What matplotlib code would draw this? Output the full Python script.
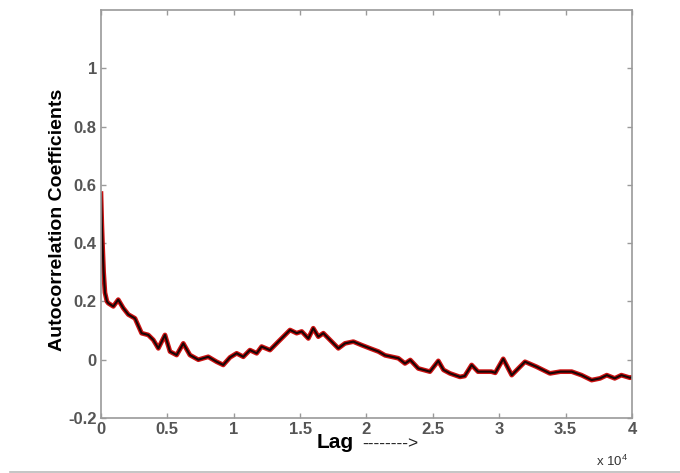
import matplotlib.pyplot as plt
from matplotlib.lines import Line2D

plt.rcParams.update({'font.family': ['Liberation Sans', 'DejaVu Sans'],
                     'mathtext.default': 'regular'})

# Autocorrelation of the series vs. lag
lag = [0, 60, 120, 200, 300, 450, 550, 930, 1300, 1680, 2060, 2560, 3060,
       3560, 3940, 4320, 4820, 5200, 5700, 6200, 6700, 7330, 8080, 8710,
       9210, 9720, 10220, 10720, 11220, 11730, 12100, 12730, 13360, 14240,
       14740, 15120, 15620, 15990, 16370, 16750, 17250, 17880, 18380, 19010,
       19640, 20260, 20900, 21400, 22400, 22900, 23300, 23900, 24780, 25410,
       25800, 26290, 27040, 27400, 27920, 28400, 29400, 29700, 30300, 30940,
       31940, 32800, 33820, 34600, 35460, 36200, 36960, 37600, 38100, 38700,
       39200, 39850, 40000]
acf = [0.57, 0.47, 0.39, 0.30, 0.23, 0.20, 0.194, 0.183, 0.206, 0.177, 0.155,
       0.142, 0.091, 0.085, 0.068, 0.039, 0.085, 0.028, 0.016, 0.056, 0.016,
       0.0, 0.01, -0.007, -0.018, 0.008, 0.022, 0.01, 0.033, 0.022, 0.045,
       0.033, 0.062, 0.102, 0.091, 0.097, 0.073, 0.108, 0.079, 0.091, 0.068,
       0.039, 0.056, 0.062, 0.050, 0.039, 0.028, 0.015, 0.005, -0.013, -0.001,
       -0.03, -0.041, -0.004, -0.035, -0.047, -0.059, -0.056, -0.018, -0.041,
       -0.041, -0.045, 0.003, -0.053, -0.007, -0.024, -0.047, -0.041, -0.041,
       -0.053, -0.070, -0.064, -0.053, -0.064, -0.053, -0.062, -0.06]

xticks = [0, 5000, 10000, 15000, 20000, 25000, 30000, 35000, 40000]
xtick_labels = ['0', '0.5', '1', '1.5', '2', '2.5', '3', '3.5', '4']
yticks = [-0.2, 0, 0.2, 0.4, 0.6, 0.8, 1.0]
ytick_labels = ['-0.2', '0', '0.2', '0.4', '0.6', '0.8', '1']

fig = plt.figure(figsize=(6.8, 4.73), dpi=100)
ax = fig.add_axes([0.1485, 0.1163, 0.7809, 0.8626])

ax.plot(lag, acf, color='#cc1111', lw=3.4, solid_joinstyle='round')
ax.plot(lag, acf, color='#1a0505', lw=1.5, solid_joinstyle='round')

ax.set_xlim(0, 40000)
ax.set_ylim(-0.2, 1.2)
ax.set_xticks(xticks, xtick_labels)
ax.set_yticks(yticks, ytick_labels)

gray = '#9a9a9a'
for s in ax.spines.values():
    s.set_color(gray)
    s.set_linewidth(1.2)
ax.tick_params(direction='in', length=3.5, width=1, color=gray,
               top=True, right=True, labelsize=12, labelcolor='#555555', pad=3)
for lbl in ax.get_xticklabels() + ax.get_yticklabels():
    lbl.set_fontweight('bold')

ax.set_ylabel('Autocorrelation Coefficients', fontsize=14, fontweight='bold')
ax.yaxis.set_label_coords(-0.066, 0.486)

# "Lag -------->" sits in the tick label row
ax.text(0.407, -0.074, 'Lag', transform=ax.transAxes, fontsize=15,
        fontweight='bold', ha='left', va='baseline')
ax.text(0.492, -0.074, '-------->', transform=ax.transAxes, fontsize=12.5,
        color='#222222', ha='left', va='baseline')
ax.text(0.932, -0.107, r'x 10$^{4}$', transform=ax.transAxes, fontsize=9.5,
        color='#333333', ha='left', va='center')

fig.add_artist(Line2D([0.015, 1.0], [0.003, 0.003], color='#bbbbbb', lw=1.2))

fig.savefig('out.png', dpi=100)
